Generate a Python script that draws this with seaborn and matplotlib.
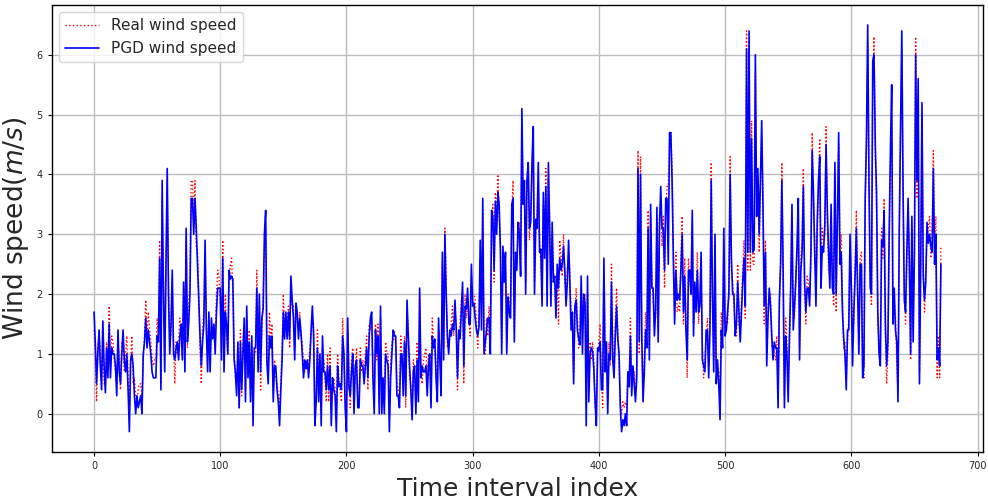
import numpy as np
import pandas as pd
import matplotlib
matplotlib.use("Agg")
import matplotlib.pyplot as plt
import seaborn as sns

# Measured wind speed per time interval (m/s)
real_speed = [
    1.4, 1.0, 0.2, 1.1, 1.3, 1.1, 0.6, 1.3, 0.5, 0.5,
    1.2, 0.8, 1.8, 0.8, 1.3, 1.2, 0.9, 0.7, 0.5, 1.2,
    0.9, 0.4, 1.2, 1.1, 0.7, 1.0, 1.3, 0.6, 0.0, 0.9,
    1.3, 0.5, 0.6, 0.3, 0.2, 0.4, 0.5, 0.5, 0.3, 0.9,
    1.3, 1.9, 1.3, 1.7, 1.4, 1.2, 0.9, 0.8, 0.9, 0.9,
    1.6, 1.3, 2.9, 0.5, 3.6, 2.2, 1.0, 2.2, 3.8, 2.2,
    1.2, 1.3, 2.1, 1.2, 0.5, 1.2, 1.0, 1.2, 1.6, 1.3,
    1.0, 2.1, 1.0, 2.9, 1.1, 1.8, 2.2, 3.9, 3.9, 3.3,
    3.9, 2.8,
    2.7, 2.0, 1.1, 0.5, 1.4, 1.7, 2.7, 1.6, 1.0, 1.5,
    0.9, 1.4, 1.4, 1.3, 1.2, 2.0, 2.4, 2.3, 1.9, 1.1,
    2.9, 1.0, 2.0, 1.3, 1.0, 2.2, 2.5, 2.6, 2.0, 1.1,
    0.6, 0.5, 1.0, 0.1, 1.4, 0.3, 1.2, 1.5, 0.4, 1.6,
    0.8, 1.4, 0.4, 1.1, 0.1, 1.0, 1.0, 2.4, 0.9, 1.8,
    0.4, 1.4, 1.9, 2.8, 3.1, 1.0, 0.6, 1.7, 1.2, 1.5,
    0.4, 0.9, 0.6, 0.5, 0.3, 0.1, 0.5, 1.1, 2.0, 1.4,
    1.5, 1.4, 1.8, 1.1, 2.1, 1.8, 1.8, 1.1, 1.7, 1.6,
    1.4, 1.7, 1.3, 1.2,
    0.8, 0.7, 0.9, 0.8, 0.8, 1.1, 1.3, 1.6, 1.5, 0.1,
    0.3, 1.4, 0.4, 0.9, 0.1, 1.1, 0.9, 0.6, 0.2, 1.0,
    0.2, 1.1, 0.1, 0.5, 0.6, 0.4, 0.0, 1.0, 0.6, 0.4,
    0.2, 1.6, 0.9, 0.3, 0.0, 1.4, 0.6, 0.1, 0.9, 1.1,
    0.2, 0.7, 1.1, 0.2, 0.3, 1.1, 0.7, 0.9, 0.6, 1.0,
    1.3, 0.4, 1.5, 1.4, 1.6, 0.8, 0.2, 1.5, 0.9, 1.5,
    0.2, 1.6, 0.2, 0.5, 0.2, 1.2, 1.0, 1.0, 0.0, 0.8,
    1.2, 1.2, 1.4, 1.2, 0.5, 0.4, 0.2, 1.3, 0.9, 0.4,
    1.3, 0.1, 1.7,
    1.4, 0.6, 0.5, 0.1, 0.9, 0.6, 0.2, 1.2, 0.4, 1.9,
    0.8, 0.5, 0.9, 1.0, 1.1, 0.5, 1.0, 0.8, 0.3, 1.6,
    1.2, 1.1, 0.8, 0.4, 1.4, 1.1, 0.5, 2.5, 1.1, 3.1,
    2.2, 1.1, 1.2, 1.3, 1.5, 1.8, 1.3, 1.7, 1.5, 0.4,
    1.2, 1.5, 1.9, 2.0, 0.5, 2.0, 1.6, 1.9, 1.6, 1.3,
    2.3, 2.0, 2.0, 1.9, 1.5, 1.1, 1.6, 2.6, 1.6, 3.4,
    1.2, 1.0, 1.6, 1.3, 1.8, 1.2, 3.2, 3.5, 2.2, 3.7,
    3.2, 4.0, 3.3, 2.9, 1.2, 2.6, 2.4, 2.5, 1.2, 2.0,
    1.9,
    1.8, 3.3, 3.9, 1.4, 2.5, 2.6, 3.0, 3.2, 2.5, 4.8,
    3.7, 3.6, 2.2, 3.7, 3.9, 2.9, 3.4, 4.0, 4.5, 2.2,
    3.0, 3.3, 3.9, 2.9, 2.5, 2.0, 3.5, 2.8, 4.1, 2.0,
    3.9, 3.3, 2.0, 3.0, 2.4, 2.1, 1.8, 2.3, 1.5, 2.9,
    2.6, 2.3, 3.0, 2.2, 2.0, 2.4, 2.7, 2.4, 1.6, 1.5,
    0.7, 1.6, 2.1, 1.6, 1.1, 1.3, 2.1, 1.7, 1.8, 2.0,
    0.1, 2.0, 0.4, 1.2, 0.9, 1.2, 0.9, 0.1, 0.1, 1.0,
    1.2, 1.5, 0.6, 0.1, 2.4, 0.9, 1.0, 0.2, 1.2, 0.8,
    2.5, 1.1, 0.8, 1.5, 2.1,
    1.4, 0.8, 0.2, 0.0, 0.2, 0.1, 0.2, 0.1, 0.7, 0.5,
    1.6, 0.5, 0.6, 0.7, 0.3, 0.8, 4.4, 1.0, 4.3, 1.1,
    0.4, 0.9, 1.7, 1.2, 3.4, 1.1, 3.3, 2.3, 1.9, 1.5,
    1.6, 3.2, 1.4, 3.3, 3.6, 2.8, 3.3, 2.1, 3.4, 3.8,
    3.8, 4.5, 4.7, 4.1, 2.8, 1.7, 2.7, 1.7, 1.8, 1.7,
    2.6, 3.3, 1.5, 2.6, 1.6, 0.6, 2.6, 2.2, 2.2, 3.2,
    1.5, 2.0, 1.9, 2.7, 1.5, 2.0, 2.5, 1.1, 0.6, 0.9,
    1.2, 1.6, 0.8, 1.7, 4.2, 1.8, 0.9, 2.8, 0.7, 0.7,
    0.7, 0.2, 1.7,
    1.3, 2.8, 1.5, 1.6, 1.5, 2.2, 4.3, 2.4, 2.2, 1.8,
    1.5, 1.3, 2.5, 1.5, 1.4, 1.9, 2.4, 2.9, 1.6, 6.4,
    2.4, 6.1, 2.4, 4.9, 2.5, 2.5, 5.7, 3.5, 3.8, 2.7,
    3.7, 4.6, 3.7, 1.5, 2.9, 1.0, 1.8, 1.9, 2.0, 1.1,
    1.1, 1.0, 0.9, 1.3, 0.3, 1.7, 2.7, 4.2, 2.2, 0.3,
    1.6, 1.2, 0.4, 1.1, 2.3, 3.3, 1.7, 1.6, 2.4, 2.6,
    3.4, 1.1, 2.6, 2.9, 4.1, 2.0, 1.5, 2.3, 2.2, 2.0,
    2.5, 4.7, 3.5, 2.9, 2.1, 3.0, 3.7, 4.6, 2.3, 3.1,
    2.9, 3.0, 4.8,
    3.2, 2.4, 2.3, 3.3, 2.3, 1.8, 4.0, 1.7, 3.4, 4.5,
    2.7, 3.0, 1.9, 1.1, 1.2, 0.6, 1.2, 1.6, 2.8, 2.3,
    1.5, 1.5, 2.5, 3.4, 1.9, 1.2, 2.6, 2.7, 0.8, 0.6,
    3.4, 4.4, 6.2, 3.7, 2.3, 1.8, 5.6, 6.3, 4.3, 3.5,
    1.5, 1.2, 1.0, 3.1, 2.6, 3.6, 1.3, 0.5, 1.0, 2.8,
    4.2, 5.2, 1.7, 1.9, 1.6, 0.9, 0.4, 2.9, 4.6, 6.1,
    3.6, 2.1, 1.5, 2.5, 3.4, 2.7, 0.9, 3.1, 1.4, 2.5,
    6.3, 3.6, 5.3, 0.7, 2.7, 4.9, 2.5, 1.7, 2.4, 3.0,
    3.1, 3.3, 2.6, 2.9, 4.4, 2.7, 3.3, 0.6, 1.3, 0.6,
    2.8,
]

# Wind speed after the PGD perturbation (m/s)
pgd_speed = [
    1.7, 1.2, 0.5, 1.0, 1.4, 0.8, 0.4, 1.55, 0.8, 0.35,
    1.1, 0.6, 1.5, 0.6, 1.1, 1.0, 1.0, 0.8, 0.3, 1.4,
    0.7, 0.5, 1.0, 1.4, 0.9, 0.7, 1.0, 0.4, -0.3, 0.9,
    1.0, 0.8, 0.3, 0.0, 0.3, 0.1, 0.2, 0.3, 0.0, 1.0,
    1.2, 1.6, 1.1, 1.4, 1.2, 1.0, 0.7, 0.6, 0.6, 0.6,
    1.3, 1.2, 2.6, 0.4, 3.9, 2.0, 0.7, 2.5, 4.1, 2.0,
    1.0, 1.5, 2.4, 1.0, 0.9, 1.1, 1.2, 0.9, 1.3, 1.5,
    0.9, 2.2, 0.7, 3.1, 1.2, 1.5, 2.0, 3.6, 3.6, 3.0,
    3.6, 3.1,
    2.5, 1.85, 1.3, 0.8, 1.2, 1.5, 2.9, 1.4, 0.7, 1.7,
    0.7, 1.6, 1.25, 1.5, 1.0, 1.7, 2.1, 2.1, 2.1, 0.9,
    2.6, 0.7, 1.7, 1.5, 1.0, 2.4, 2.25, 2.3, 2.25, 0.9,
    0.7, 0.3, 1.2, 0.1, 1.2, 0.4, 1.0, 1.6, 0.2, 1.8,
    0.6, 1.2, 0.2, 1.3, -0.2, 1.1, 1.1, 2.1, 0.7, 2.0,
    0.7, 1.6, 1.75, 3.0, 3.4, 0.85, 0.5, 1.3, 1.1, 1.3,
    0.2, 0.8, 0.8, 0.4, 0.2, -0.2, 0.4, 0.9, 1.7, 1.25,
    1.7, 1.25, 1.7, 1.25, 2.3, 1.9, 1.6, 0.9, 1.85, 1.7,
    1.25, 1.6, 1.35, 1.0,
    0.6, 0.9, 0.75, 0.9, 0.6, 0.9, 1.4, 1.8, 1.3, -0.2,
    0.2, 1.1, 0.2, 1.0, -0.2, 1.3, 0.7, 0.7, 0.4, 0.8,
    0.4, 0.8, -0.2, 0.6, 0.4, 0.3, -0.3, 0.8, 0.45, 0.5,
    0.4, 1.3, 1.0, 0.1, -0.3, 1.6, 0.45, 0.3, 0.7, 1.0,
    0.0, 0.8, 0.9, 0.1, 0.1, 0.9, 0.8, 0.8, 0.5, 0.8,
    1.1, 0.6, 1.3, 1.6, 1.7, 0.6, 0.0, 1.4, 1.0, 1.3,
    0.0, 1.8, 0.0, 0.6, 0.0, 1.0, 0.9, 0.8, -0.3, 0.6,
    1.0, 1.4, 1.3, 1.3, 0.3, 0.3, 0.1, 1.0, 1.0, 0.3,
    1.2, 0.3, 1.9,
    1.3, 0.8, 0.4, -0.1, 0.7, 0.8, 0.0, 0.9, 0.2, 2.1,
    0.6, 0.8, 0.7, 0.7, 0.8, 0.3, 0.8, 1.0, 0.1, 1.3,
    1.1, 1.25, 0.6, 0.2, 1.6, 0.9, 0.3, 2.7, 0.9, 3.0,
    2.0, 1.3, 1.0, 1.4, 1.3, 1.5, 1.4, 1.9, 1.4, 0.6,
    1.4, 1.25, 1.7, 2.2, 0.8, 1.8, 1.75, 2.1, 1.5, 1.5,
    2.5, 1.8, 1.85, 1.6, 1.4, 1.3, 1.45, 2.9, 1.4, 3.6,
    1.0, 1.2, 1.4, 1.6, 1.6, 1.0, 3.4, 3.3, 2.4, 3.55,
    3.0, 3.7, 3.5, 2.7, 1.0, 2.8, 2.2, 2.7, 1.0, 1.95,
    1.7,
    1.6, 3.5, 3.6, 1.2, 2.7, 2.4, 3.2, 3.0, 2.3, 5.1,
    3.5, 3.9, 2.0, 3.9, 4.2, 3.1, 3.2, 4.2, 4.8, 2.0,
    3.25, 3.1, 4.2, 2.7, 2.75, 1.8, 3.7, 2.6, 3.8, 1.8,
    4.2, 3.1, 1.8, 3.2, 2.2, 2.3, 1.6, 2.5, 2.1, 2.6,
    2.4, 2.5, 2.8, 2.4, 1.8, 2.2, 2.9, 2.2, 1.4, 1.7,
    0.5, 1.8, 1.9, 1.4, 1.25, 1.15, 2.3, 1.0, 2.0, 1.85,
    -0.2, 2.3, 0.2, 1.0, 1.1, 1.05, 0.75, 0.2, -0.2, 1.1,
    1.05, 1.2, 0.4, 0.4, 2.6, 0.7, 1.2, 0.0, 1.0, 0.9,
    2.2, 0.9, 0.6, 1.3, 1.8,
    1.25, 1.0, 0.1, -0.3, -0.1, -0.2, 0.0, -0.2, 0.7, 0.45,
    1.3, 0.3, 0.8, 0.5, 0.2, 0.6, 4.1, 1.2, 4.0, 1.3,
    0.2, 0.7, 1.4, 1.1, 3.1, 0.9, 3.5, 2.1, 2.1, 1.3,
    1.75, 3.45, 1.2, 3.1, 3.8, 3.1, 3.1, 2.4, 3.6, 3.6,
    2.5, 4.7, 4.7, 3.9, 2.6, 1.5, 2.4, 1.9, 2.0, 1.9,
    2.4, 3.0, 1.7, 2.3, 1.4, 0.9, 2.4, 2.4, 2.0, 3.4,
    1.3, 2.2, 1.7, 2.4, 1.7, 1.8, 2.7, 0.9, 0.8, 0.7,
    1.4, 1.4, 0.6, 1.4, 3.9, 2.0, 0.7, 3.0, 0.5, 0.9,
    0.5, -0.1, 1.4,
    1.1, 3.1, 1.3, 1.4, 1.7, 2.0, 4.0, 2.6, 2.0, 2.0,
    1.3, 1.5, 2.2, 1.7, 1.2, 1.7, 2.2, 2.6, 1.8, 6.1,
    2.7, 6.4, 2.7, 4.6, 2.7, 2.75, 6.0, 3.3, 4.1, 3.0,
    3.9, 4.9, 3.5, 1.8, 2.7, 0.8, 1.6, 2.1, 1.8, 1.3,
    0.9, 1.2, 1.1, 1.1, 0.1, 1.9, 2.5, 3.9, 2.4, 0.1,
    1.3, 1.0, 0.2, 1.3, 2.1, 3.5, 1.4, 1.8, 2.2, 2.8,
    3.6, 0.9, 2.4, 2.7, 3.8, 2.2, 1.7, 2.1, 2.1, 1.8,
    2.7, 4.4, 3.7, 2.7, 1.8, 3.2, 3.9, 4.3, 2.1, 2.8,
    2.7, 3.15, 4.5,
    3.4, 2.7, 2.1, 3.5, 2.1, 2.0, 4.2, 2.0, 3.2, 4.7,
    2.5, 2.7, 1.7, 1.25, 1.0, 0.4, 1.4, 1.4, 3.0, 2.1,
    0.8, 1.7, 2.3, 3.1, 2.1, 1.0, 2.5, 2.5, 0.6, 0.8,
    3.6, 4.6, 6.5, 3.9, 2.1, 2.0, 5.9, 6.0, 4.5, 3.7,
    1.7, 1.0, 0.8, 2.9, 2.8, 3.4, 1.5, 0.8, 1.2, 3.0,
    4.4, 5.5, 1.5, 2.1, 1.4, 1.2, 0.2, 3.1, 4.8, 6.4,
    3.8, 1.9, 1.7, 2.7, 3.6, 2.5, 1.0, 3.3, 1.2, 2.7,
    6.0, 3.9, 5.6, 0.5, 2.5, 5.2, 2.3, 1.9, 2.2, 3.2,
    2.85, 3.0, 2.8, 2.7, 4.1, 2.5, 3.0, 0.9, 1.1, 0.8,
    2.5,
]

x_ticks = [0, 100, 200, 300, 400, 500, 600, 700]
y_ticks = [0, 1, 2, 3, 4, 5, 6]

n = min(len(real_speed), len(pgd_speed))
df = pd.DataFrame({
    "t": np.arange(n),
    "real": real_speed[:n],
    "pgd": pgd_speed[:n],
})

sns.set_theme(style="ticks")
plt.rcParams["font.family"] = ["DejaVu Sans"]

fig = plt.figure(figsize=(9.88, 5.01), dpi=100)
ax = fig.add_axes([0.0523, 0.0978, 0.9429, 0.893])

sns.lineplot(data=df, x="t", y="real", ax=ax, color="red", linestyle=":",
             linewidth=1.0, label="Real wind speed")
sns.lineplot(data=df, x="t", y="pgd", ax=ax, color="blue", linestyle="-",
             linewidth=1.2, label="PGD wind speed")

ax.set_xlim(-0.05 * (n - 1), 1.05 * (n - 1))
ax.set_ylim(-0.64, 6.84)
ax.set_xticks(x_ticks)
ax.set_yticks(y_ticks)
ax.tick_params(axis="both", labelsize=7, length=3, width=0.8, color="black")
ax.grid(True, color="#bdbdbd", linewidth=1.0)
for side in ax.spines.values():
    side.set_color("black")
    side.set_linewidth(1.0)

ax.set_xlabel("Time interval index", fontsize=18)
ax.set_ylabel("Wind speed($m/s$)", fontsize=19)

ax.legend(loc="upper left", fontsize=11, frameon=True, fancybox=True,
          framealpha=0.8, edgecolor="#cccccc", handlelength=2.2)

fig.savefig("out.png", dpi=100)
